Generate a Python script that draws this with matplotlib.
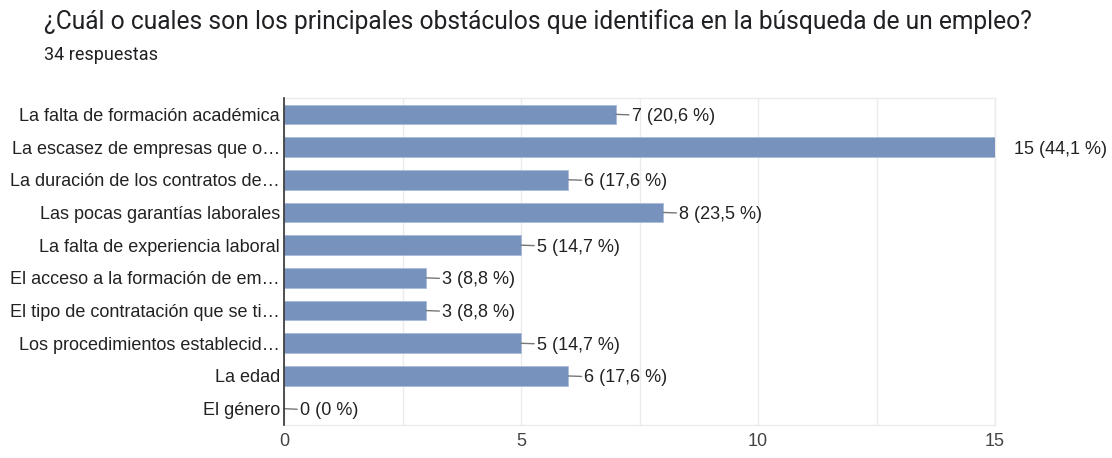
import matplotlib.pyplot as plt

plt.rcParams['font.family'] = ['Liberation Sans', 'DejaVu Sans']

categorias = [
    'La falta de formación académica',
    'La escasez de empresas que o…',
    'La duración de los contratos de…',
    'Las pocas garantías laborales',
    'La falta de experiencia laboral',
    'El acceso a la formación de em…',
    'El tipo de contratación que se ti…',
    'Los procedimientos establecid…',
    'La edad',
    'El género',
]
valores = [7, 15, 6, 8, 5, 3, 3, 5, 6, 0]
etiquetas = ['7 (20,6 %)', '15 (44,1 %)', '6 (17,6 %)', '8 (23,5 %)', '5 (14,7 %)',
             '3 (8,8 %)', '3 (8,8 %)', '5 (14,7 %)', '6 (17,6 %)', '0 (0 %)']

fig = plt.figure(figsize=(11.12, 4.58), dpi=100)
ax = fig.add_axes([0.2554, 0.072, 0.6394, 0.714])

y = list(range(len(categorias)))
ax.barh(y, valores, height=0.6, color='#7892be', edgecolor='#a9bbd9', linewidth=0.6, zorder=3)
ax.set_ylim(len(categorias) - 0.5, -0.5)
ax.set_xlim(0, 15)

fs = 12.95
ax.set_xticks([0, 5, 10, 15])
ax.set_xticks([2.5, 7.5, 12.5], minor=True)
ax.grid(axis='x', which='both', color='#ebebeb', linewidth=1, zorder=0)
ax.set_yticks(y)
ax.set_yticklabels(categorias, fontsize=fs, color='#222222', va='center_baseline')
ax.tick_params(axis='y', length=0, pad=3)
ax.tick_params(axis='x', which='both', length=0, pad=6, labelsize=fs, labelcolor='#444444')

for s in ['top', 'right', 'bottom']:
    ax.spines[s].set_color('#ebebeb')
    ax.spines[s].set_linewidth(1)
ax.spines['left'].set_color('#333333')
ax.spines['left'].set_linewidth(1.2)
ax.spines['left'].set_zorder(4)

for i, (v, t) in enumerate(zip(valores, etiquetas)):
    if v == max(valores):
        ax.annotate(t, xy=(v, i), xytext=(14, 0), textcoords='offset points',
                    va='center_baseline', ha='left', fontsize=fs, color='#222222',
                    annotation_clip=False)
    else:
        ax.annotate(t, xy=(v, i), xytext=(11.5, 0), textcoords='offset points',
                    va='center_baseline', ha='left', fontsize=fs, color='#222222',
                    arrowprops=dict(arrowstyle='-', color='#777777', lw=1,
                                    shrinkA=0, shrinkB=0),
                    annotation_clip=False)

fig.text(0.0396, 0.952, '¿Cuál o cuales son los principales obstáculos que identifica en la búsqueda de un empleo?',
         fontsize=17.7, color='#202124', va='center', ha='left', family='Roboto')
fig.text(0.0396, 0.881, '34 respuestas', fontsize=13, color='#202124', va='center', ha='left',
         family='Roboto')

fig.savefig('out.png', dpi=100)
